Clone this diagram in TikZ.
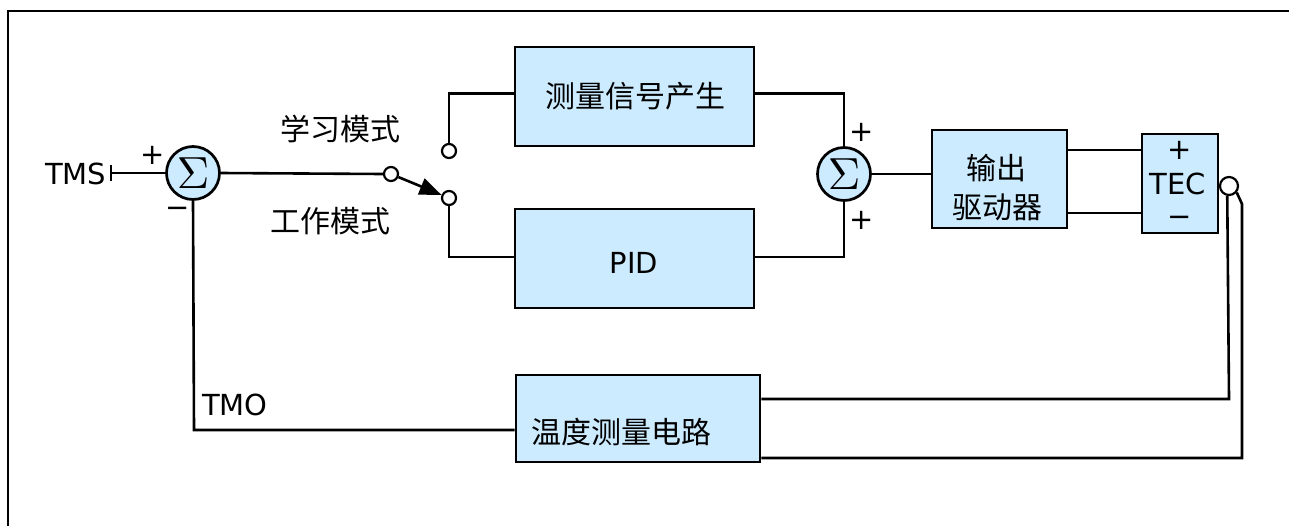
\documentclass[tikz,border=0pt]{standalone}
\usepackage{fontspec}
\usepackage{graphicx}
\setmainfont{DejaVu Sans}
\newfontfamily\cjk{Noto Sans CJK SC}
\usetikzlibrary{arrows.meta,calc}
\definecolor{blkfill}{RGB}{204,235,255}
\tikzset{
  blk/.style={draw, line width=2.9pt, fill=blkfill, inner sep=0pt},
  wire/.style={line width=2.6pt},
  sumc/.style={circle, draw, line width=2.7pt, fill=blkfill, minimum size=53pt, inner sep=0pt},
  contact/.style={circle, draw, line width=2.2pt, fill=white, minimum size=14pt, inner sep=0pt},
  lat/.style={font=\fontsize{29}{35}\selectfont, inner sep=0pt},
  zh/.style={font=\cjk\fontsize{30}{39}\selectfont, inner sep=0pt},
}
\newcommand{\bigsig}{\scalebox{4.5}{$\Sigma$}}
\begin{document}
\begin{tikzpicture}[x=1pt,y=-1pt]
\useasboundingbox (0,0) rectangle (1289,525);
% frame
\draw[line width=2.9pt] (8,540) -- (8,11) -- (1300,11);

% blocks
\node[blk, minimum width=239pt, minimum height=99pt] (meas) at (634.5,96.5) {};
\node[blk, minimum width=239pt, minimum height=99pt] (pid) at (634.5,258.5) {};
\node[blk, minimum width=135pt, minimum height=98pt] (drv) at (999.5,179) {};
\node[blk, minimum width=76pt, minimum height=99pt] (tec) at (1180,183.5) {};
\node[blk, minimum width=244pt, minimum height=87pt] (temp) at (638,418.5) {};

% block texts
\node[zh] (tmeas) at (635,96) {测量信号产生};
\node[lat, anchor=base] (tpid) at (634,273) {PID};
\node[zh] (tdrv1) at (996,168) {输出};
\node[zh] (tdrv2) at (997,207) {驱动器};
\node[lat] (tecp) at (1180,150) {+};
\node[lat, anchor=base] (tect) at (1178,194) {TEC};
\node[lat] (tecm) at (1180,221) {\textminus};
\node[zh] (ttemp) at (621,432) {温度测量电路};

% summing junctions
\node[sumc] (s1) at (193,173) {\bigsig};
\node[sumc] (s2) at (844,174) {\bigsig};
\node[lat] (s1p) at (153,155) {+};
\node[lat] (s1m) at (178,212) {\textminus};
\node[lat] (s2p) at (862,132) {+};
\node[lat] (s2q) at (862,220) {+};

% input
\node[lat, anchor=base west] (tms) at (45,184) {TMS};
\coordinate (tick) at (111,173);
\draw[wire] ($(tick)+(0,-8)$) -- ($(tick)+(0,8)$);
\draw[wire] (tick) -- (s1.west);

% switch
\node[contact] (c0) at (391,174) {};
\node[contact] (c1) at (449,151) {};
\node[contact] (c2) at (449,198) {};
\draw[wire] (s1.east) -- (c0.west);
\draw[wire, -{Triangle[length=22pt,width=17pt]}] (c0) -- (c2);
\node[zh] (learn) at (340,129) {学习模式};
\node[zh] (work) at (330,221) {工作模式};
\coordinate (mIn) at ($(meas.west)+(0,-3)$);
\coordinate (pIn) at ($(pid.west)+(0,-1.5)$);
\draw[wire] (c1.north) |- (mIn);
\draw[wire] (c2.south) |- (pIn);

% to second sum
\coordinate (mOut) at ($(meas.east)+(0,-3)$);
\coordinate (pOut) at ($(pid.east)+(0,-1.5)$);
\draw[wire] (mOut) -| (s2.north);
\draw[wire] (pOut) -| (s2.south);
\draw[wire] (s2.east) -- (s2.east -| drv.west);

% driver to TEC
\coordinate (dP) at (1067,150);
\coordinate (dM) at (1067,213);
\draw[wire] (dP) -- (dP -| tec.west);
\draw[wire] (dM) -- (dM -| tec.west);

% sensor terminal
\node[contact, minimum size=18pt] (term) at (1229,186) {};
\coordinate (w1a) at (1229,399);
\coordinate (w2a) at (1242,204);
\coordinate (w2b) at (1242,458);
\draw[wire] (term.-100) -- (w1a) -- (w1a -| temp.east);
\draw[wire] (term.-40) -- (w2a) -- (w2b) -- (w2b -| temp.east);

% feedback
\coordinate (fb) at (194,430);
\draw[wire] (s1.south) -- (fb) -- (fb -| temp.west);
\node[lat, anchor=base west] (tmo) at (202,415) {TMO};
\end{tikzpicture}
\end{document}
